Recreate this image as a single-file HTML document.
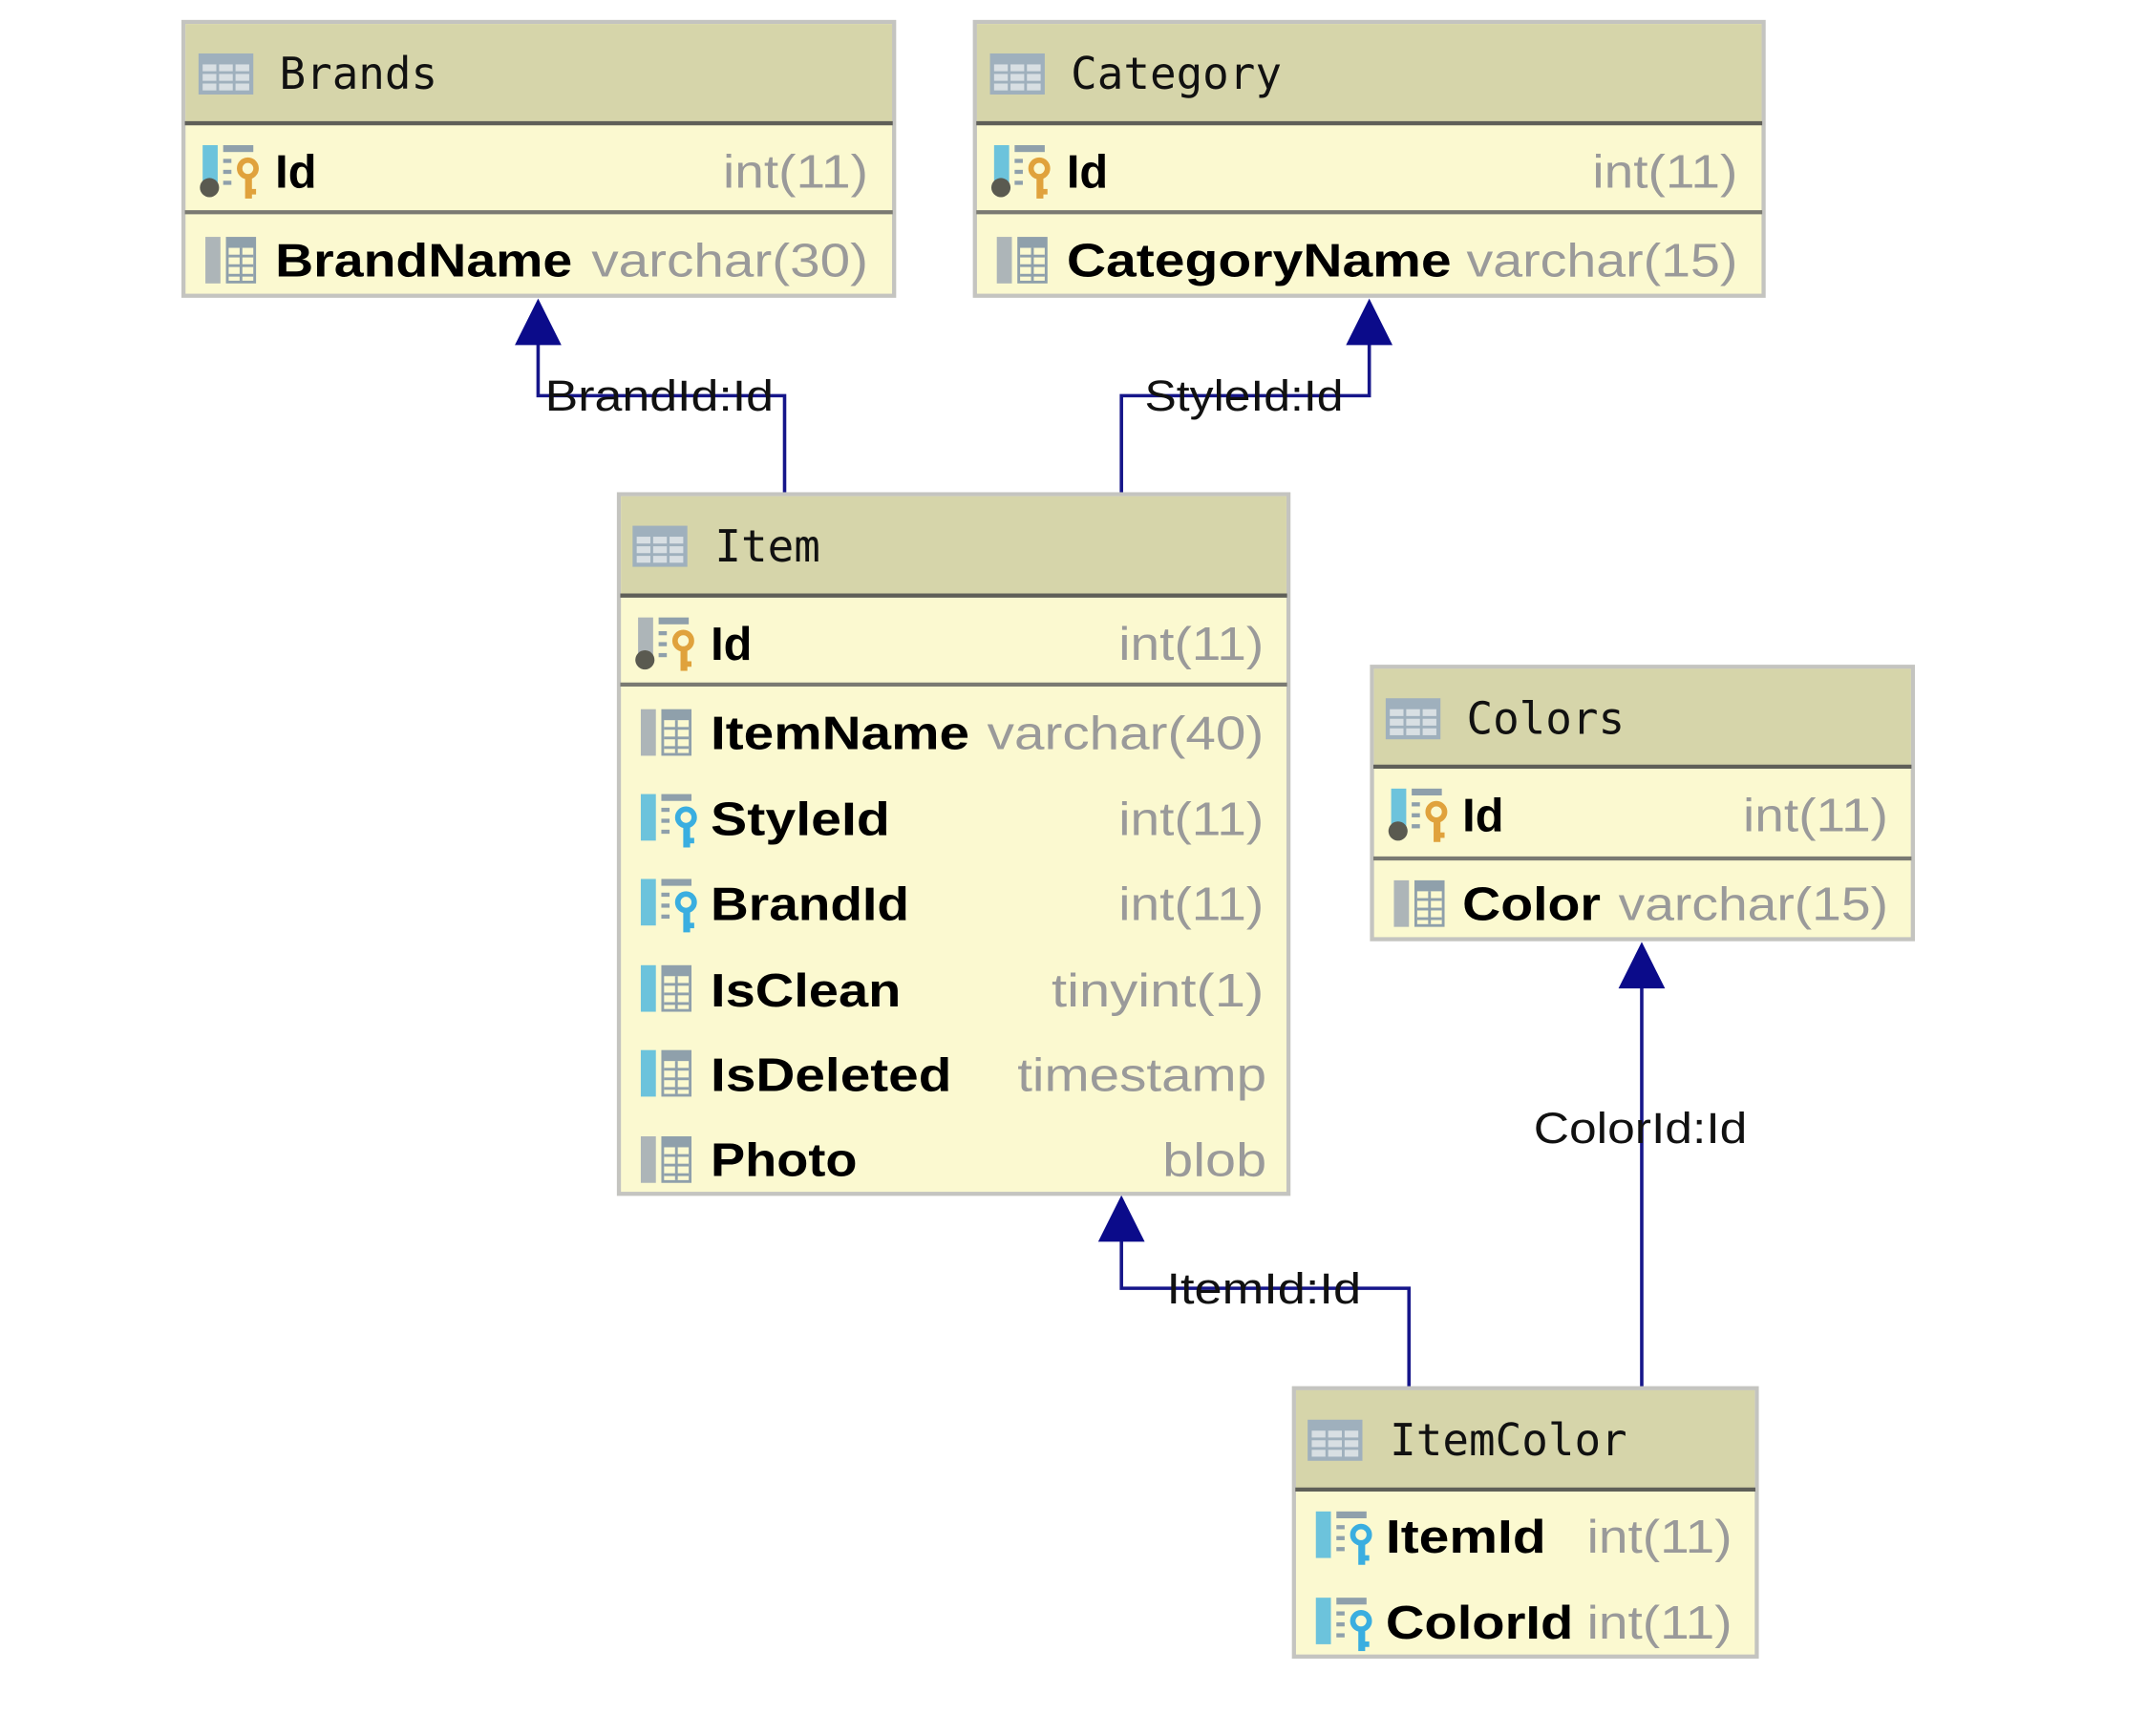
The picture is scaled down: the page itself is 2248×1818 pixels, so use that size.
<!DOCTYPE html>
<html><head><meta charset="utf-8"><style>
html,body{margin:0;padding:0;background:#fff;}
svg{display:block;}
.hd{font-family:"DejaVu Sans Mono","Liberation Mono",monospace;font-size:32px;fill:#111;}
.nm{font-family:"Liberation Sans",sans-serif;font-weight:bold;font-size:34px;fill:#000;}
.ty{font-family:"Liberation Sans",sans-serif;font-size:34px;fill:#9a9a9a;}
.lb{font-family:"Liberation Sans",sans-serif;font-size:32px;fill:#111;}
</style></head><body>
<svg width="2248" height="1818" viewBox="0 0 1568 1268" xmlns="http://www.w3.org/2000/svg">
<defs>
<g id="tbl">
<rect x="0" y="0" width="40" height="30" fill="#9fb0bd"/>
<g fill="#d8dfe3"><rect x="3" y="8" width="10" height="5"/><rect x="15" y="8" width="10" height="5"/><rect x="27" y="8" width="10" height="5"/>
<rect x="3" y="15" width="10" height="5"/><rect x="15" y="15" width="10" height="5"/><rect x="27" y="15" width="10" height="5"/>
<rect x="3" y="22" width="10" height="5"/><rect x="15" y="22" width="10" height="5"/><rect x="27" y="22" width="10" height="5"/></g>
</g>
<g id="colgrid">
<rect x="15" y="0" width="22" height="34" fill="#8fa0ab"/>
<g fill="#fbf9d0"><rect x="17" y="8" width="18" height="24"/></g>
<g fill="#8fa0ab"><rect x="17" y="13" width="18" height="2"/><rect x="17" y="20" width="18" height="2"/><rect x="17" y="27" width="18" height="2"/><rect x="25" y="8" width="2" height="24"/></g>
</g>
<g id="col">
<rect x="0" y="0" width="11" height="34" fill="#adb5b8"/>
<use href="#colgrid"/>
</g>
<g id="colb">
<rect x="0" y="0" width="11" height="34" fill="#6cc3dc"/>
<use href="#colgrid"/>
</g>
<g id="pk">
<rect x="0" y="0" width="11" height="28" fill="#6cc3dc"/>
<circle cx="5" cy="31" r="7" fill="#5a5a50"/>
<rect x="15" y="0" width="22" height="5" fill="#8fa0ab"/>
<g fill="#8fa0ab"><rect x="15" y="10" width="6" height="3"/><rect x="15" y="18" width="6" height="3"/><rect x="15" y="26" width="6" height="3"/></g>
<circle cx="33" cy="17" r="6" fill="none" stroke="#e0a23c" stroke-width="4"/>
<rect x="31" y="22" width="5" height="17" fill="#e0a23c"/><rect x="35" y="32" width="4" height="4" fill="#e0a23c"/>
</g>
<g id="pkg">
<rect x="0" y="0" width="11" height="28" fill="#adb5b8"/>
<circle cx="5" cy="31" r="7" fill="#5a5a50"/>
<rect x="15" y="0" width="22" height="5" fill="#8fa0ab"/>
<g fill="#8fa0ab"><rect x="15" y="10" width="6" height="3"/><rect x="15" y="18" width="6" height="3"/><rect x="15" y="26" width="6" height="3"/></g>
<circle cx="33" cy="17" r="6" fill="none" stroke="#e0a23c" stroke-width="4"/>
<rect x="31" y="22" width="5" height="17" fill="#e0a23c"/><rect x="35" y="32" width="4" height="4" fill="#e0a23c"/>
</g>
<g id="fk">
<rect x="0" y="0" width="11" height="34" fill="#6cc3dc"/>
<rect x="15" y="0" width="22" height="5" fill="#8fa0ab"/>
<g fill="#8fa0ab"><rect x="15" y="10" width="6" height="3"/><rect x="15" y="18" width="6" height="3"/><rect x="15" y="26" width="6" height="3"/></g>
<circle cx="33" cy="17" r="6" fill="none" stroke="#3aaee0" stroke-width="4"/>
<rect x="31" y="22" width="5" height="17" fill="#3aaee0"/><rect x="35" y="32" width="4" height="4" fill="#3aaee0"/>
</g>
</defs>

<g stroke="#16168a" stroke-width="2.5" fill="none">
<polyline points="393,245 393,289 573,289 573,361"/>
<polyline points="819,361 819,289 1000,289 1000,245"/>
<polyline points="819,900 819,941 1029,941 1029,1014"/>
<polyline points="1199,715 1199,1014"/>
</g>
<g fill="#0b0b8a">
<polygon points="393,218 376,252 410,252"/>
<polygon points="1000,218 983,252 1017,252"/>
<polygon points="819,873 802,907 836,907"/>
<polygon points="1199,688 1182,722 1216,722"/>
</g>
<text class="lb" x="398" y="300" textLength="167" lengthAdjust="spacingAndGlyphs">BrandId:Id</text>
<text class="lb" x="836" y="300" textLength="145" lengthAdjust="spacingAndGlyphs">StyleId:Id</text>
<text class="lb" x="852" y="952" textLength="142" lengthAdjust="spacingAndGlyphs">ItemId:Id</text>
<text class="lb" x="1120" y="835" textLength="156" lengthAdjust="spacingAndGlyphs">ColorId:Id</text>

<rect x="134" y="16" width="519" height="200" fill="#fbf9d0" stroke="#c4c4c0" stroke-width="3"/>
<rect x="135.5" y="17.5" width="516" height="72" fill="#d6d5aa"/>
<line x1="135" y1="90" x2="652" y2="90" stroke="#5f5f58" stroke-width="3"/>
<line x1="135" y1="155" x2="652" y2="155" stroke="#7a7a72" stroke-width="3"/>
<use href="#tbl" x="145" y="39"/>
<text class="hd" x="204" y="65">Brands</text>
<use href="#pk" x="148" y="106"/>
<text class="nm" x="201" y="137">Id</text>
<text class="ty" x="634" y="137" text-anchor="end" textLength="106" lengthAdjust="spacingAndGlyphs">int(11)</text>
<use href="#col" x="150" y="173"/>
<text class="nm" x="201" y="202" textLength="217" lengthAdjust="spacingAndGlyphs">BrandName</text>
<text class="ty" x="634" y="202" text-anchor="end" textLength="202" lengthAdjust="spacingAndGlyphs">varchar(30)</text>

<rect x="712" y="16" width="576" height="200" fill="#fbf9d0" stroke="#c4c4c0" stroke-width="3"/>
<rect x="713.5" y="17.5" width="573" height="72" fill="#d6d5aa"/>
<line x1="713" y1="90" x2="1287" y2="90" stroke="#5f5f58" stroke-width="3"/>
<line x1="713" y1="155" x2="1287" y2="155" stroke="#7a7a72" stroke-width="3"/>
<use href="#tbl" x="723" y="39"/>
<text class="hd" x="782" y="65">Category</text>
<use href="#pk" x="726" y="106"/>
<text class="nm" x="779" y="137">Id</text>
<text class="ty" x="1269" y="137" text-anchor="end" textLength="106" lengthAdjust="spacingAndGlyphs">int(11)</text>
<use href="#col" x="728" y="173"/>
<text class="nm" x="779" y="202" textLength="281" lengthAdjust="spacingAndGlyphs">CategoryName</text>
<text class="ty" x="1269" y="202" text-anchor="end" textLength="198" lengthAdjust="spacingAndGlyphs">varchar(15)</text>

<rect x="452" y="361" width="489" height="511" fill="#fbf9d0" stroke="#c4c4c0" stroke-width="3"/>
<rect x="453.5" y="362.5" width="486" height="72" fill="#d6d5aa"/>
<line x1="453" y1="435" x2="940" y2="435" stroke="#5f5f58" stroke-width="3"/>
<line x1="453" y1="500" x2="940" y2="500" stroke="#7a7a72" stroke-width="3"/>
<use href="#tbl" x="462" y="384"/>
<text class="hd" x="522" y="410">Item</text>
<use href="#pkg" x="466" y="451"/>
<text class="nm" x="519" y="482">Id</text>
<text class="ty" x="923" y="482" text-anchor="end" textLength="106" lengthAdjust="spacingAndGlyphs">int(11)</text>
<use href="#col" x="468" y="518"/>
<text class="nm" x="519" y="547" textLength="189" lengthAdjust="spacingAndGlyphs">ItemName</text>
<text class="ty" x="923" y="547" text-anchor="end" textLength="202" lengthAdjust="spacingAndGlyphs">varchar(40)</text>
<use href="#fk" x="468" y="580"/>
<text class="nm" x="519" y="610" textLength="131" lengthAdjust="spacingAndGlyphs">StyleId</text>
<text class="ty" x="923" y="610" text-anchor="end" textLength="106" lengthAdjust="spacingAndGlyphs">int(11)</text>
<use href="#fk" x="468" y="642"/>
<text class="nm" x="519" y="672" textLength="145" lengthAdjust="spacingAndGlyphs">BrandId</text>
<text class="ty" x="923" y="672" text-anchor="end" textLength="106" lengthAdjust="spacingAndGlyphs">int(11)</text>
<use href="#colb" x="468" y="705" />
<text class="nm" x="519" y="735" textLength="139" lengthAdjust="spacingAndGlyphs">IsClean</text>
<text class="ty" x="923" y="735" text-anchor="end" textLength="155" lengthAdjust="spacingAndGlyphs">tinyint(1)</text>
<use href="#colb" x="468" y="767"/>
<text class="nm" x="519" y="797" textLength="176" lengthAdjust="spacingAndGlyphs">IsDeleted</text>
<text class="ty" x="925" y="797" text-anchor="end" textLength="182" lengthAdjust="spacingAndGlyphs">timestamp</text>
<use href="#col" x="468" y="830"/>
<text class="nm" x="519" y="859" textLength="107" lengthAdjust="spacingAndGlyphs">Photo</text>
<text class="ty" x="925" y="859" text-anchor="end" textLength="76" lengthAdjust="spacingAndGlyphs">blob</text>

<rect x="1002" y="487" width="395" height="199" fill="#fbf9d0" stroke="#c4c4c0" stroke-width="3"/>
<rect x="1003.5" y="488.5" width="392" height="71" fill="#d6d5aa"/>
<line x1="1003" y1="560" x2="1396" y2="560" stroke="#5f5f58" stroke-width="3"/>
<line x1="1003" y1="627" x2="1396" y2="627" stroke="#7a7a72" stroke-width="3"/>
<use href="#tbl" x="1012" y="510"/>
<text class="hd" x="1071" y="536">Colors</text>
<use href="#pk" x="1016" y="576"/>
<text class="nm" x="1068" y="607">Id</text>
<text class="ty" x="1379" y="607" text-anchor="end" textLength="106" lengthAdjust="spacingAndGlyphs">int(11)</text>
<use href="#col" x="1018" y="643"/>
<text class="nm" x="1068" y="672" textLength="101" lengthAdjust="spacingAndGlyphs">Color</text>
<text class="ty" x="1379" y="672" text-anchor="end" textLength="197" lengthAdjust="spacingAndGlyphs">varchar(15)</text>

<rect x="945" y="1014" width="338" height="196" fill="#fbf9d0" stroke="#c4c4c0" stroke-width="3"/>
<rect x="946.5" y="1015.5" width="335" height="72" fill="#d6d5aa"/>
<line x1="946" y1="1088" x2="1282" y2="1088" stroke="#5f5f58" stroke-width="3"/>
<use href="#tbl" x="955" y="1037"/>
<text class="hd" x="1015" y="1063">ItemColor</text>
<use href="#fk" x="961" y="1104"/>
<text class="nm" x="1012" y="1134" textLength="117" lengthAdjust="spacingAndGlyphs">ItemId</text>
<text class="ty" x="1265" y="1134" text-anchor="end" textLength="106" lengthAdjust="spacingAndGlyphs">int(11)</text>
<use href="#fk" x="961" y="1167"/>
<text class="nm" x="1012" y="1197" textLength="137" lengthAdjust="spacingAndGlyphs">ColorId</text>
<text class="ty" x="1265" y="1197" text-anchor="end" textLength="106" lengthAdjust="spacingAndGlyphs">int(11)</text>
</svg>
</body></html>
